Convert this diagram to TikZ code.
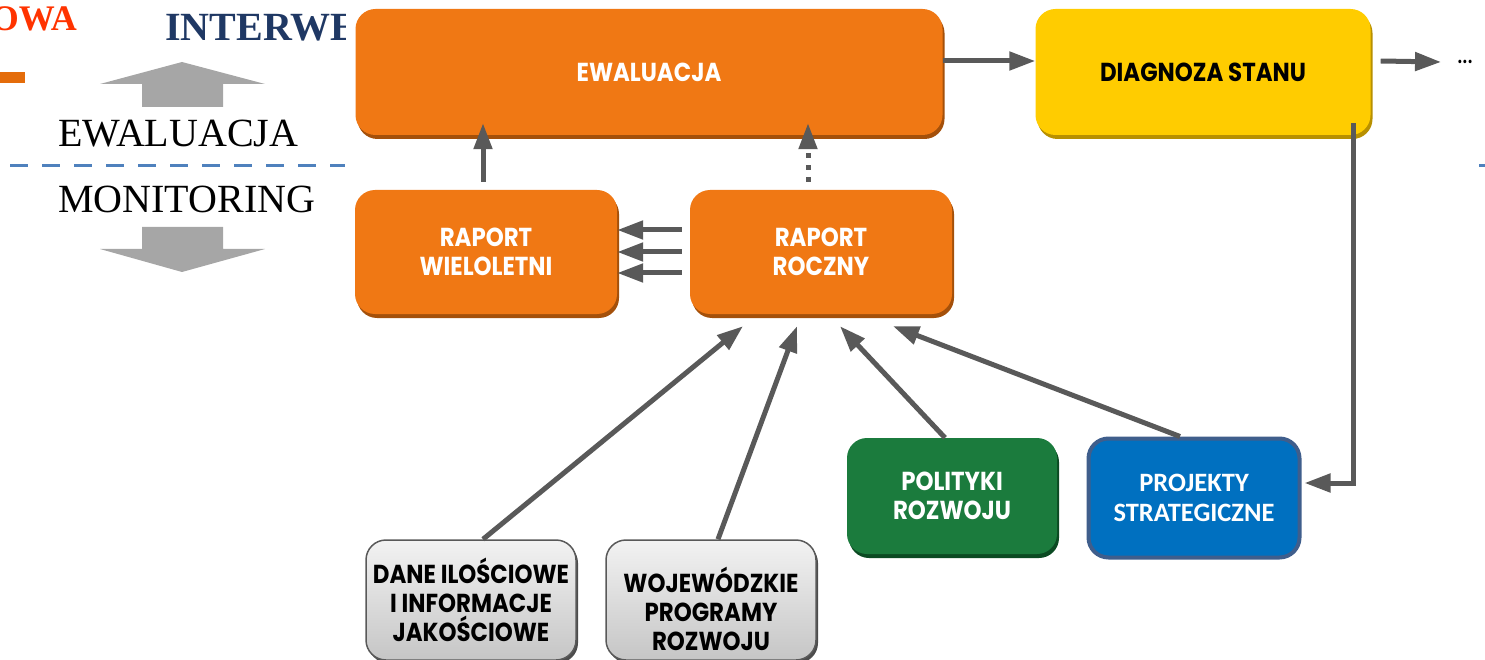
\documentclass[tikz,border=0pt]{standalone}
\usepackage{fontspec}
\setmainfont{Liberation Serif}
\newfontfamily\gothic[FakeStretch=0.88]{Poppins}
\newfontfamily\calib{Carlito}
\usetikzlibrary{arrows.meta,calc,shadows}
\definecolor{orfill}{HTML}{F07814}
\definecolor{ordark}{HTML}{A4500A}
\definecolor{yelfill}{HTML}{FFCC00}
\definecolor{yeldark}{HTML}{B89000}
\definecolor{grnfill}{HTML}{1B7B3D}
\definecolor{grndark}{HTML}{0B4A22}
\definecolor{blufill}{HTML}{0070C0}
\definecolor{bluedge}{HTML}{3F5E8C}
\definecolor{arrgray}{HTML}{595959}
\definecolor{biggray}{HTML}{A6A6A6}
\definecolor{owared}{HTML}{FF3300}
\definecolor{navy}{HTML}{1F3864}
\definecolor{orbar}{HTML}{E46C0A}
\definecolor{dashblue}{HTML}{4F81BD}
\begin{document}
\begin{tikzpicture}[x=1pt,y=-1pt,
  box/.style={rounded corners=20pt, inner sep=0pt, align=center,
    font=\gothic\bfseries\fontsize{26}{29}\selectfont},
  orbox/.style={box, fill=orfill, text=white,
    drop shadow={shadow xshift=2pt,shadow yshift=-4pt,fill=ordark,opacity=1}},
  yelbox/.style={box, fill=yelfill, text=black,
    drop shadow={shadow xshift=2pt,shadow yshift=-4pt,fill=yeldark,opacity=1}},
  grnbox/.style={box, fill=grnfill, text=white,
    drop shadow={shadow xshift=2pt,shadow yshift=-4pt,fill=grndark,opacity=1}},
  blubox/.style={box, fill=blufill, draw=bluedge, line width=4pt, text=white,
    font=\calib\bfseries\fontsize{26.5}{30}\selectfont},
  grybox/.style={box, top color=gray!10, bottom color=gray!45, draw=gray!70!black,
    line width=1.5pt, text=black,
    drop shadow={shadow xshift=2pt,shadow yshift=-3pt,fill=gray!60!black,opacity=1}},
  arr/.style={draw=arrgray, line width=5pt, -{Triangle[length=26pt,width=18pt]}},
  dotarr/.style={arr, dash pattern=on 5pt off 7pt},
  dashline/.style={draw=dashblue, line width=3pt, dash pattern=on 18pt off 14pt},
  bigtxt/.style={anchor=base west, inner sep=0pt, font=\fontsize{40}{44}\selectfont},
]
\useasboundingbox (0,0) rectangle (1485,660);

% left part (partly hidden by the diagram)
\begin{scope}
\clip (0,0) rectangle (345,660);
\node[anchor=base east, inner sep=0pt, text=owared, font=\bfseries\fontsize{36}{40}\selectfont] (owa) at (77,31) {OWA};
\node[anchor=base west, inner sep=0pt, text=navy, font=\bfseries\fontsize{40}{44}\selectfont] (interwe) at (165,41) {INTERWE};
\fill[orbar] (0,72) rectangle (25,83);
\fill[biggray] (100,84) -- (182,62) -- (265,84) -- (223,84) -- (223,107) -- (142,107) -- (142,84) -- cycle;
\node[bigtxt] (ewtxt) at (58,147) {EWALUACJA};
\draw[dashline] (10,166) -- (345,166);
\node[bigtxt] (montxt) at (58,213) {MONITORING};
\fill[biggray] (142,227) -- (223,227) -- (223,249) -- (265,249) -- (182,272) -- (100,249) -- (142,249) -- cycle;
\end{scope}
\draw[dashline] (1479,166) -- (1485,166);

% boxes
\node[orbox, minimum width=587pt, minimum height=126pt] (ewal) at (649,72) {EWALUACJA};
\node[yelbox, minimum width=335pt, minimum height=126pt] (diag) at (1203,72) {DIAGNOZA STANU};
\node[orbox, minimum width=262pt, minimum height=124pt] (wiel) at (486,252) {RAPORT\\WIELOLETNI};
\node[orbox, minimum width=262pt, minimum height=124pt] (rocz) at (821,252) {RAPORT\\ROCZNY};
\node[grnbox, minimum width=210pt, minimum height=116pt] (pol) at (952,496) {POLITYKI\\ROZWOJU};
\node[blubox, minimum width=211pt, minimum height=119pt] (proj) at (1194,498) {PROJEKTY\\STRATEGICZNE};
\node[grybox, minimum width=210pt, minimum height=120pt] (dane) at (471,600) {DANE ILOŚCIOWE\\I INFORMACJE\\JAKOŚCIOWE};
\node[grybox, minimum width=210pt, minimum height=120pt] (woj) at (711,600) {};
\node[inner sep=0pt, align=center, font=\gothic\bfseries\fontsize{26}{29}\selectfont] (wojtxt) at (711,609) {WOJEWÓDZKIE\\PROGRAMY\\ROZWOJU};
\node[inner sep=0pt, font=\gothic\fontsize{28}{30}\selectfont] (dots) at (1465,62) {...};

% connectors
\draw[arr] ($(ewal.east)+(0pt,11pt)$) -- ($(diag.west)+(0pt,11pt)$);
\draw[arr] ($(diag.east)+(10pt,11pt)$) -- ($(dots.west)+(-16pt,0pt)$);
\draw[arr] ($(wiel.north)+(-3pt,8pt)$) -- ($(wiel.north |- ewal.south)+(-3pt,12pt)$);
\draw[dotarr] ($(rocz.north)+(-13pt,8pt)$) -- ($(rocz.north |- ewal.south)+(-13pt,12pt)$);
\draw[arr] ($(rocz.west)+(-8pt,22pt)$) -- ($(wiel.east)+(0pt,22pt)$);
\draw[arr] ($(rocz.west)+(-8pt,0pt)$) -- ($(wiel.east)+(0pt,0pt)$);
\draw[arr] ($(rocz.west)+(-8pt,-21pt)$) -- ($(wiel.east)+(0pt,-21pt)$);
\draw[arr] ($(dane.north)+(12pt,0pt)$) -- ($(rocz.south)+(-78pt,-12pt)$);
\draw[arr] ($(woj.north)+(7pt,0pt)$) -- ($(rocz.south)+(-24pt,-12pt)$);
\draw[arr] ($(pol.north)+(-7pt,0pt)$) -- ($(rocz.south)+(19pt,-12pt)$);
\draw[arr] ($(proj.north)+(-14pt,0pt)$) -- ($(rocz.south)+(72pt,-12pt)$);
\draw[arr] ($(diag.south)+(150pt,12pt)$) |- ($(proj.east)+(3pt,15pt)$);
\end{tikzpicture}
\end{document}
